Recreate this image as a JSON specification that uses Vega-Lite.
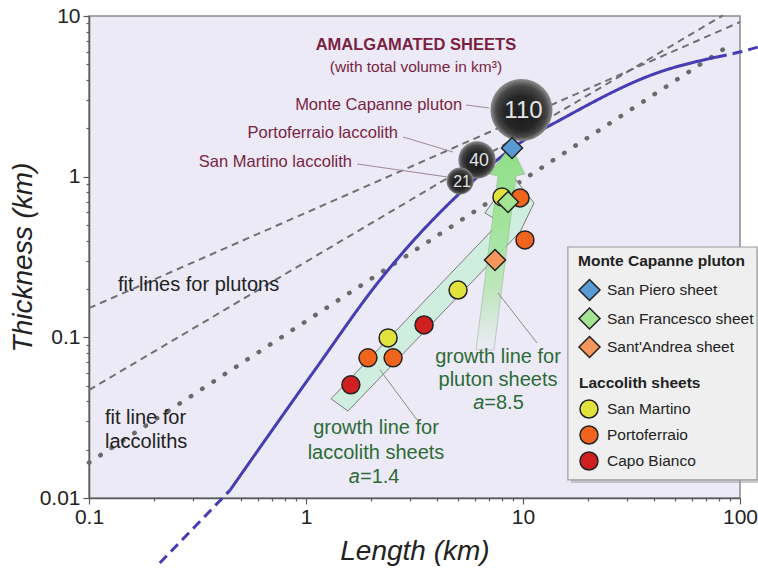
{
  "$schema": "https://vega.github.io/schema/vega-lite/v6.json",
  "width": 651,
  "height": 482,
  "autosize": {"type": "none"},
  "padding": {"left": 89, "top": 16, "right": 18, "bottom": 73},
  "background": "#ffffff",
  "config": {
    "font": "Liberation Sans",
    "view": {"fill": "#ECEAF7", "stroke": "#8c8c8c", "strokeWidth": 1.5},
    "axis": {"grid": false, "labelFont": "Liberation Sans", "labelFontSize": 21, "labelColor": "#222222", "domainColor": "#5a5a5a", "domainWidth": 1.5, "tickColor": "#5a5a5a", "tickWidth": 1.2, "titleFont": "Liberation Sans", "titleFontSize": 28, "titleFontStyle": "italic", "titleFontWeight": "normal", "titleColor": "#222222", "labelFlush": false, "labelOverlap": false},
    "legend": {"labelFont": "Liberation Sans", "titleFont": "Liberation Sans", "padding": 0}
  },
  "datasets": {
    "fitDash": [
      {"line": "A", "x": 0.1, "y": 0.152}, {"line": "A", "x": 100, "y": 9.18},
      {"line": "B", "x": 0.1, "y": 0.047}, {"line": "B", "x": 83.5, "y": 10.1}
    ],
    "fitDot": [{"x": 0.1, "y": 0.0166}, {"x": 92.9, "y": 6.79}],
    "curve": [
      {"part": "lower", "x": 0.212, "y": 0.00394},
      {"part": "lower", "x": 0.447, "y": 0.0112},
      {"part": "mid", "x": 0.447, "y": 0.0112},
      {"part": "mid", "x": 1.099, "y": 0.0627},
      {"part": "mid", "x": 2.193, "y": 0.2275},
      {"part": "mid", "x": 5.30, "y": 0.826},
      {"part": "mid", "x": 9.68, "y": 1.622},
      {"part": "mid", "x": 14.83, "y": 2.254},
      {"part": "mid", "x": 42.76, "y": 4.487},
      {"part": "mid", "x": 78.3, "y": 5.56},
      {"part": "upper", "x": 78.3, "y": 5.56},
      {"part": "upper", "x": 100, "y": 5.97},
      {"part": "upper", "x": 121, "y": 6.41}
    ],
    "lacArrow": [
      {"i": 1, "x": 1.304, "y": 0.0414},
      {"i": 2, "x": 1.562, "y": 0.0348},
      {"i": 3, "x": 9.69, "y": 0.453},
      {"i": 4, "x": 11.24, "y": 0.686},
      {"i": 5, "x": 8.90, "y": 1.025},
      {"i": 6, "x": 6.68, "y": 0.594},
      {"i": 7, "x": 7.83, "y": 0.523}
    ],
    "plutArrow": [
      {"i": 1, "x": 6.07, "y": 0.0835},
      {"i": 2, "x": 7.35, "y": 0.0835},
      {"i": 3, "x": 9.29, "y": 1.010},
      {"i": 4, "x": 10.21, "y": 1.039},
      {"i": 5, "x": 8.80, "y": 1.553},
      {"i": 6, "x": 6.97, "y": 1.039},
      {"i": 7, "x": 7.67, "y": 1.010}
    ],
    "grayPointers": [
      {"x": 11.6, "y": 0.0923, "x2": 7.67, "y2": 0.189},
      {"x": 3.25, "y": 0.0306, "x2": 2.193, "y2": 0.0627}
    ],
    "maroonPointers": [
      {"x": 5.46, "y": 2.794, "x2": 6.97, "y2": 2.676},
      {"x": 2.80, "y": 1.766, "x2": 4.76, "y2": 1.424},
      {"x": 1.718, "y": 1.20, "x2": 4.47, "y2": 0.996}
    ],
    "bubbles": [
      {"x": 6.14, "y": 1.27, "vol": 40},
      {"x": 5.13, "y": 0.94, "vol": 21},
      {"x": 9.84, "y": 2.60, "vol": 110}
    ],
    "laccolith": [
      {"sheet": "San Martino", "x": 8.00, "y": 0.748},
      {"sheet": "San Martino", "x": 5.02, "y": 0.197},
      {"sheet": "San Martino", "x": 2.39, "y": 0.0992},
      {"sheet": "Portoferraio", "x": 9.69, "y": 0.737},
      {"sheet": "Portoferraio", "x": 10.21, "y": 0.404},
      {"sheet": "Portoferraio", "x": 1.93, "y": 0.0745},
      {"sheet": "Portoferraio", "x": 2.52, "y": 0.0745},
      {"sheet": "Capo Bianco", "x": 3.50, "y": 0.1194},
      {"sheet": "Capo Bianco", "x": 1.61, "y": 0.0506}
    ],
    "pluton": [
      {"sheet": "San Piero sheet", "x": 8.90, "y": 1.509},
      {"sheet": "San Francesco sheet", "x": 8.53, "y": 0.696},
      {"sheet": "Sant'Andrea  sheet", "x": 7.43, "y": 0.303}
    ],
    "legendBox": [{"x": 16.1, "x2": 119.8, "y": 0.365, "y2": 0.01296}],
    "maroonRight": [
      {"x": 5.24, "y": 2.794, "t": "Monte Capanne pluton"},
      {"x": 2.655, "y": 1.870, "t": "Portoferraio laccolith"},
      {"x": 1.629, "y": 1.234, "t": "San Martino laccolith"}
    ],
    "heading": [{"x": 3.21, "y": 6.60, "t": "AMALGAMATED SHEETS"}],
    "subheading": [{"x": 3.21, "y": 4.82, "t": "(with total volume in km³)"}],
    "blackText": [
      {"x": 0.136, "y": 0.212, "t": "fit lines for plutons"},
      {"x": 0.1185, "y": 0.0315, "t": "fit line for"},
      {"x": 0.1185, "y": 0.0223, "t": "laccoliths"}
    ],
    "greenText": [
      {"x": 7.67, "y": 0.0755, "t": "growth line for"},
      {"x": 7.67, "y": 0.0543, "t": "pluton sheets"},
      {"x": 2.102, "y": 0.0273, "t": "growth line for"},
      {"x": 2.102, "y": 0.0191, "t": "laccolith sheets"}
    ],
    "greenA": [
      {"x": 6.63, "y": 0.0391, "t": "a", "rest": "=8.5"},
      {"x": 1.773, "y": 0.01353, "t": "a", "rest": "=1.4"}
    ]
  },
  "layer": [
    {
      "data": {"name": "fitDash"},
      "mark": {"type": "line", "stroke": "#707070", "strokeWidth": 2, "strokeDash": [7, 5]},
      "encoding": {
        "x": {"field": "x", "type": "quantitative", "scale": {"type": "log", "domain": [0.1, 100]},
              "axis": {"orient": "bottom", "values": [0.1, 1, 10, 100], "format": "~g", "tickSize": 6, "labelPadding": 2, "title": "Length (km)", "titlePadding": 10}},
        "y": {"field": "y", "type": "quantitative", "scale": {"type": "log", "domain": [0.01, 10]},
              "axis": {"orient": "left", "values": [0.01, 0.1, 1, 10], "format": "~g", "tickSize": 6, "labelPadding": 3, "title": "Thickness (km)", "titlePadding": 2}},
        "detail": {"field": "line", "type": "nominal"}
      }
    },
    {
      "data": {"name": "fitDot"},
      "mark": {"type": "line", "stroke": "#6a6a6a", "strokeWidth": 4.5, "strokeDash": [0.5, 13], "strokeCap": "round"},
      "encoding": {
        "x": {"field": "x", "type": "quantitative", "scale": {"type": "log", "domain": [0.1, 100]},
              "axis": {"orient": "bottom", "values": [0.2, 0.3, 0.4, 0.5, 0.6, 0.7, 0.8, 0.9, 2, 3, 4, 5, 6, 7, 8, 9, 20, 30, 40, 50, 60, 70, 80, 90], "labels": false, "domain": false, "tickSize": 3, "title": null}},
        "y": {"field": "y", "type": "quantitative", "scale": {"type": "log", "domain": [0.01, 10]},
              "axis": {"orient": "left", "values": [0.02, 0.03, 0.04, 0.05, 0.06, 0.07, 0.08, 0.09, 0.2, 0.3, 0.4, 0.5, 0.6, 0.7, 0.8, 0.9, 2, 3, 4, 5, 6, 7, 8, 9], "labels": false, "domain": false, "tickSize": 3, "title": null}}
      }
    },
    {
      "data": {"name": "curve"},
      "mark": {"type": "line", "stroke": "#463CB4", "strokeWidth": 3, "interpolate": "monotone"},
      "encoding": {
        "x": {"field": "x", "type": "quantitative", "scale": {"type": "log", "domain": [0.1, 100]}, "axis": null},
        "y": {"field": "y", "type": "quantitative", "scale": {"type": "log", "domain": [0.01, 10]}, "axis": null},
        "strokeDash": {"field": "part", "type": "nominal", "scale": {"domain": ["lower", "mid", "upper"], "range": [[10, 6], [1, 0], [10, 6]]}, "legend": null}
      }
    },
    {
      "data": {"name": "lacArrow"},
      "mark": {"type": "line", "interpolate": "linear-closed", "fill": "#C8EFD8", "fillOpacity": 0.8, "stroke": "#7a7a7a", "strokeWidth": 1},
      "encoding": {
        "x": {"field": "x", "type": "quantitative", "scale": {"type": "log", "domain": [0.1, 100]}, "axis": null},
        "y": {"field": "y", "type": "quantitative", "scale": {"type": "log", "domain": [0.01, 10]}, "axis": null},
        "order": {"field": "i", "type": "quantitative"}
      }
    },
    {
      "data": {"name": "plutArrow"},
      "mark": {"type": "line", "interpolate": "linear-closed",
               "fill": {"gradient": "linear", "x1": 0, "y1": 1, "x2": 0, "y2": 0, "stops": [{"offset": 0, "color": "rgba(160,228,150,0)"}, {"offset": 0.3, "color": "rgba(160,228,150,0.6)"}, {"offset": 0.7, "color": "#9fe397"}, {"offset": 1, "color": "#8fde89"}]},
               "stroke": "#8aa88a", "strokeWidth": 0.8, "strokeOpacity": 0.6},
      "encoding": {
        "x": {"field": "x", "type": "quantitative", "scale": {"type": "log", "domain": [0.1, 100]}, "axis": null},
        "y": {"field": "y", "type": "quantitative", "scale": {"type": "log", "domain": [0.01, 10]}, "axis": null},
        "order": {"field": "i", "type": "quantitative"}
      }
    },
    {
      "data": {"name": "grayPointers"},
      "mark": {"type": "rule", "stroke": "#8a8a8a", "strokeWidth": 1},
      "encoding": {
        "x": {"field": "x", "type": "quantitative", "scale": {"type": "log", "domain": [0.1, 100]}, "axis": null},
        "y": {"field": "y", "type": "quantitative", "scale": {"type": "log", "domain": [0.01, 10]}, "axis": null},
        "x2": {"field": "x2"},
        "y2": {"field": "y2"}
      }
    },
    {
      "data": {"name": "maroonPointers"},
      "mark": {"type": "rule", "stroke": "#a08898", "strokeWidth": 1},
      "encoding": {
        "x": {"field": "x", "type": "quantitative", "scale": {"type": "log", "domain": [0.1, 100]}, "axis": null},
        "y": {"field": "y", "type": "quantitative", "scale": {"type": "log", "domain": [0.01, 10]}, "axis": null},
        "x2": {"field": "x2"},
        "y2": {"field": "y2"}
      }
    },
    {
      "data": {"name": "bubbles"},
      "mark": {"type": "circle", "opacity": 1,
               "fill": {"gradient": "radial", "x1": 0.5, "y1": 0.62, "r1": 0, "x2": 0.5, "y2": 0.5, "r2": 0.5, "stops": [{"offset": 0, "color": "#1c1c1c"}, {"offset": 0.55, "color": "#262626"}, {"offset": 0.82, "color": "#474747"}, {"offset": 1, "color": "#8e8e8e"}]}},
      "encoding": {
        "x": {"field": "x", "type": "quantitative", "scale": {"type": "log", "domain": [0.1, 100]}, "axis": null},
        "y": {"field": "y", "type": "quantitative", "scale": {"type": "log", "domain": [0.01, 10]}, "axis": null},
        "size": {"field": "vol", "type": "quantitative", "scale": {"domain": [0, 110], "range": [0, 3850]}, "legend": null}
      }
    },
    {
      "data": {"name": "bubbles"},
      "mark": {"type": "text", "color": "#e4e4e4", "align": "center", "baseline": "middle", "dx": 2, "dy": 1, "font": "Liberation Sans"},
      "encoding": {
        "x": {"field": "x", "type": "quantitative", "scale": {"type": "log", "domain": [0.1, 100]}, "axis": null},
        "y": {"field": "y", "type": "quantitative", "scale": {"type": "log", "domain": [0.01, 10]}, "axis": null},
        "text": {"field": "vol", "type": "quantitative"},
        "size": {"field": "vol", "type": "quantitative", "scale": {"domain": [21, 110], "range": [16, 24]}, "legend": null}
      }
    },
    {
      "data": {"name": "laccolith"},
      "mark": {"type": "circle", "size": 324, "stroke": "#222222", "strokeWidth": 1.5, "opacity": 1},
      "encoding": {
        "x": {"field": "x", "type": "quantitative", "scale": {"type": "log", "domain": [0.1, 100]}, "axis": null},
        "y": {"field": "y", "type": "quantitative", "scale": {"type": "log", "domain": [0.01, 10]}, "axis": null},
        "fill": {"field": "sheet", "type": "nominal",
                 "scale": {"domain": ["San Martino", "Portoferraio", "Capo Bianco"], "range": ["#E2E23C", "#F0641E", "#CF1F1F"]},
                 "legend": {"title": "Laccolith sheets", "orient": "none", "legendX": 490, "legendY": 360, "titleFontSize": 15.5, "titleFontWeight": "bold", "titleColor": "#222222", "labelFontSize": 15.5, "labelColor": "#222222", "symbolType": "circle", "symbolSize": 324, "symbolStrokeColor": "#222222", "symbolStrokeWidth": 1.5, "symbolOpacity": 1, "rowPadding": 2, "titlePadding": 7.5, "labelOffset": 8, "labelLimit": 300}}
      }
    },
    {
      "data": {"name": "pluton"},
      "mark": {"type": "point", "shape": "diamond", "filled": true, "size": 441, "stroke": "#222222", "strokeWidth": 1.5, "opacity": 1},
      "encoding": {
        "x": {"field": "x", "type": "quantitative", "scale": {"type": "log", "domain": [0.1, 100]}, "axis": null},
        "y": {"field": "y", "type": "quantitative", "scale": {"type": "log", "domain": [0.01, 10]}, "axis": null},
        "fill": {"field": "sheet", "type": "nominal",
                 "scale": {"domain": ["San Piero sheet", "San Francesco sheet", "Sant'Andrea  sheet"], "range": ["#5B9BD5", "#A3E393", "#F5965C"]},
                 "legend": {"title": "Monte Capanne pluton", "orient": "none", "legendX": 489, "legendY": 238, "titleFontSize": 15.5, "titleFontWeight": "bold", "titleColor": "#222222", "labelFontSize": 15.5, "labelColor": "#222222", "symbolType": "diamond", "symbolSize": 441, "symbolStrokeColor": "#222222", "symbolStrokeWidth": 1.5, "symbolOpacity": 1, "rowPadding": 1.5, "titlePadding": 9, "labelOffset": 6, "labelLimit": 300}}
      }
    },
    {
      "data": {"name": "legendBox"},
      "mark": {"type": "rect", "fill": "#9a9a9a", "opacity": 0.5, "xOffset": 3, "x2Offset": 3, "yOffset": 3, "y2Offset": 3},
      "encoding": {
        "x": {"field": "x", "type": "quantitative", "scale": {"type": "log", "domain": [0.1, 100]}, "axis": null},
        "y": {"field": "y", "type": "quantitative", "scale": {"type": "log", "domain": [0.01, 10]}, "axis": null},
        "x2": {"field": "x2"},
        "y2": {"field": "y2"}
      }
    },
    {
      "data": {"name": "legendBox"},
      "mark": {"type": "rect", "fill": "#EFEFEF", "stroke": "#9c9c9c", "strokeWidth": 1.2},
      "encoding": {
        "x": {"field": "x", "type": "quantitative", "scale": {"type": "log", "domain": [0.1, 100]}, "axis": null},
        "y": {"field": "y", "type": "quantitative", "scale": {"type": "log", "domain": [0.01, 10]}, "axis": null},
        "x2": {"field": "x2"},
        "y2": {"field": "y2"}
      }
    },
    {
      "data": {"name": "maroonRight"},
      "mark": {"type": "text", "align": "right", "baseline": "middle", "fontSize": 16.5, "color": "#7A1F42", "font": "Liberation Sans"},
      "encoding": {
        "x": {"field": "x", "type": "quantitative", "scale": {"type": "log", "domain": [0.1, 100]}, "axis": null},
        "y": {"field": "y", "type": "quantitative", "scale": {"type": "log", "domain": [0.01, 10]}, "axis": null},
        "text": {"field": "t", "type": "nominal"}
      }
    },
    {
      "data": {"name": "heading"},
      "mark": {"type": "text", "align": "center", "baseline": "middle", "fontSize": 16.5, "fontWeight": "bold", "color": "#7A1F42", "font": "Liberation Sans"},
      "encoding": {
        "x": {"field": "x", "type": "quantitative", "scale": {"type": "log", "domain": [0.1, 100]}, "axis": null},
        "y": {"field": "y", "type": "quantitative", "scale": {"type": "log", "domain": [0.01, 10]}, "axis": null},
        "text": {"field": "t", "type": "nominal"}
      }
    },
    {
      "data": {"name": "subheading"},
      "mark": {"type": "text", "align": "center", "baseline": "middle", "fontSize": 15.5, "color": "#7A1F42", "font": "Liberation Sans"},
      "encoding": {
        "x": {"field": "x", "type": "quantitative", "scale": {"type": "log", "domain": [0.1, 100]}, "axis": null},
        "y": {"field": "y", "type": "quantitative", "scale": {"type": "log", "domain": [0.01, 10]}, "axis": null},
        "text": {"field": "t", "type": "nominal"}
      }
    },
    {
      "data": {"name": "blackText"},
      "mark": {"type": "text", "align": "left", "baseline": "middle", "fontSize": 20, "color": "#222222", "font": "Liberation Sans"},
      "encoding": {
        "x": {"field": "x", "type": "quantitative", "scale": {"type": "log", "domain": [0.1, 100]}, "axis": null},
        "y": {"field": "y", "type": "quantitative", "scale": {"type": "log", "domain": [0.01, 10]}, "axis": null},
        "text": {"field": "t", "type": "nominal"}
      }
    },
    {
      "data": {"name": "greenText"},
      "mark": {"type": "text", "align": "center", "baseline": "middle", "fontSize": 20, "color": "#2D6A35", "font": "Liberation Sans"},
      "encoding": {
        "x": {"field": "x", "type": "quantitative", "scale": {"type": "log", "domain": [0.1, 100]}, "axis": null},
        "y": {"field": "y", "type": "quantitative", "scale": {"type": "log", "domain": [0.01, 10]}, "axis": null},
        "text": {"field": "t", "type": "nominal"}
      }
    },
    {
      "data": {"name": "greenA"},
      "mark": {"type": "text", "align": "right", "baseline": "middle", "fontSize": 20, "fontStyle": "italic", "color": "#2D6A35", "font": "Liberation Sans"},
      "encoding": {
        "x": {"field": "x", "type": "quantitative", "scale": {"type": "log", "domain": [0.1, 100]}, "axis": null},
        "y": {"field": "y", "type": "quantitative", "scale": {"type": "log", "domain": [0.01, 10]}, "axis": null},
        "text": {"field": "t", "type": "nominal"}
      }
    },
    {
      "data": {"name": "greenA"},
      "mark": {"type": "text", "align": "left", "baseline": "middle", "fontSize": 20, "color": "#2D6A35", "font": "Liberation Sans"},
      "encoding": {
        "x": {"field": "x", "type": "quantitative", "scale": {"type": "log", "domain": [0.1, 100]}, "axis": null},
        "y": {"field": "y", "type": "quantitative", "scale": {"type": "log", "domain": [0.01, 10]}, "axis": null},
        "text": {"field": "rest", "type": "nominal"}
      }
    }
  ],
  "resolve": {
    "scale": {"fill": "independent", "size": "independent", "strokeDash": "independent"},
    "axis": {"x": "independent", "y": "independent"},
    "legend": {"fill": "independent"}
  }
}
